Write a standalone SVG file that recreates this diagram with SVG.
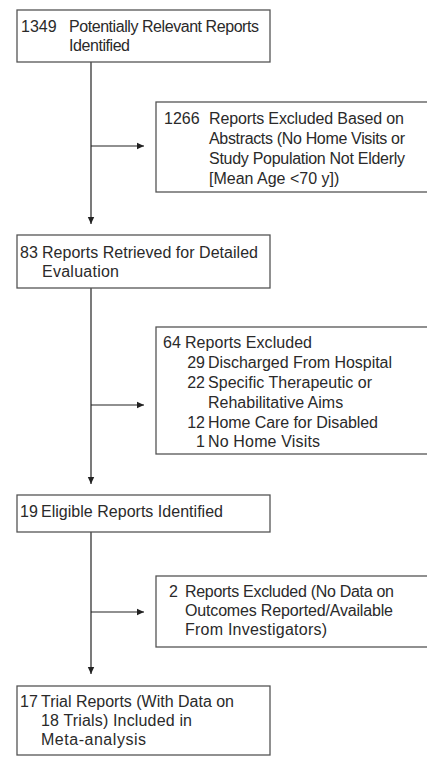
<svg xmlns="http://www.w3.org/2000/svg" width="427" height="757" viewBox="0 0 427 757">
<style>
.box{fill:#fff;stroke:#555;stroke-width:1.3}
text{font-family:"Liberation Sans",Arial,sans-serif;font-size:16px;fill:#2a2a2a}
.c{stroke:#222;stroke-width:1.2;fill:none}
.n{text-anchor:end}
</style>
<defs>
<marker id="ah" markerWidth="8" markerHeight="8" refX="7" refY="4" orient="auto" markerUnits="userSpaceOnUse">
<path d="M0,0.8 L7,4 L0,7.2 Z" fill="#222"/>
</marker>
</defs>
<rect width="427" height="757" fill="#fff"/>
<g id="connectors">
<line class="c" x1="91" y1="62" x2="91" y2="224" marker-end="url(#ah)"/>
<line class="c" x1="91" y1="146" x2="144" y2="146" marker-end="url(#ah)"/>
<line class="c" x1="91" y1="288" x2="91" y2="484" marker-end="url(#ah)"/>
<line class="c" x1="91" y1="405" x2="144" y2="405" marker-end="url(#ah)"/>
<line class="c" x1="91" y1="532" x2="91" y2="674" marker-end="url(#ah)"/>
<line class="c" x1="91" y1="612" x2="144" y2="612" marker-end="url(#ah)"/>
</g>
<g id="n1">
<rect class="box" x="17" y="10" width="253" height="52"/>
<text x="21" y="32">1349</text>
<text x="69" y="32" textLength="190">Potentially Relevant Reports</text>
<text x="69" y="51" textLength="61">Identified</text>
</g>
<g id="n2">
<rect class="box" x="156" y="102" width="280" height="90"/>
<text x="164" y="124">1266</text>
<text x="209" y="124" textLength="195">Reports Excluded Based on</text>
<text x="209" y="144" textLength="196">Abstracts (No Home Visits or</text>
<text x="209" y="164" textLength="196">Study Population Not Elderly</text>
<text x="209" y="184">[Mean Age &lt;70 y])</text>
</g>
<g id="n3">
<rect class="box" x="17" y="235" width="253" height="53"/>
<text x="20" y="258">83</text>
<text x="42" y="258" textLength="216">Reports Retrieved for Detailed</text>
<text x="42" y="277" textLength="77">Evaluation</text>
</g>
<g id="n4">
<rect class="box" x="156" y="327" width="280" height="127"/>
<text x="163" y="348">64</text>
<text x="185" y="348" textLength="127">Reports Excluded</text>
<text class="n" x="205" y="368">29</text>
<text x="208" y="368" textLength="184">Discharged From Hospital</text>
<text class="n" x="205" y="388">22</text>
<text x="208" y="388" textLength="164">Specific Therapeutic or</text>
<text x="208" y="408">Rehabilitative Aims</text>
<text class="n" x="205" y="428">12</text>
<text x="208" y="428" textLength="170">Home Care for Disabled</text>
<text class="n" x="205" y="447">1</text>
<text x="208" y="447" textLength="112">No Home Visits</text>
</g>
<g id="n5">
<rect class="box" x="17" y="495" width="253" height="37"/>
<text x="20" y="517">19</text>
<text x="41" y="517" textLength="182">Eligible Reports Identified</text>
</g>
<g id="n6">
<rect class="box" x="156" y="576" width="280" height="71"/>
<text x="169" y="597">2</text>
<text x="185" y="597" textLength="209">Reports Excluded (No Data on</text>
<text x="185" y="616" textLength="208">Outcomes Reported/Available</text>
<text x="185" y="635" textLength="142">From Investigators)</text>
</g>
<g id="n7">
<rect class="box" x="17" y="686" width="253" height="69"/>
<text x="20" y="707">17</text>
<text x="41" y="707" textLength="193">Trial Reports (With Data on</text>
<text x="41" y="726" textLength="151">18 Trials) Included in</text>
<text x="41" y="745" textLength="105">Meta-analysis</text>
</g>
</svg>
